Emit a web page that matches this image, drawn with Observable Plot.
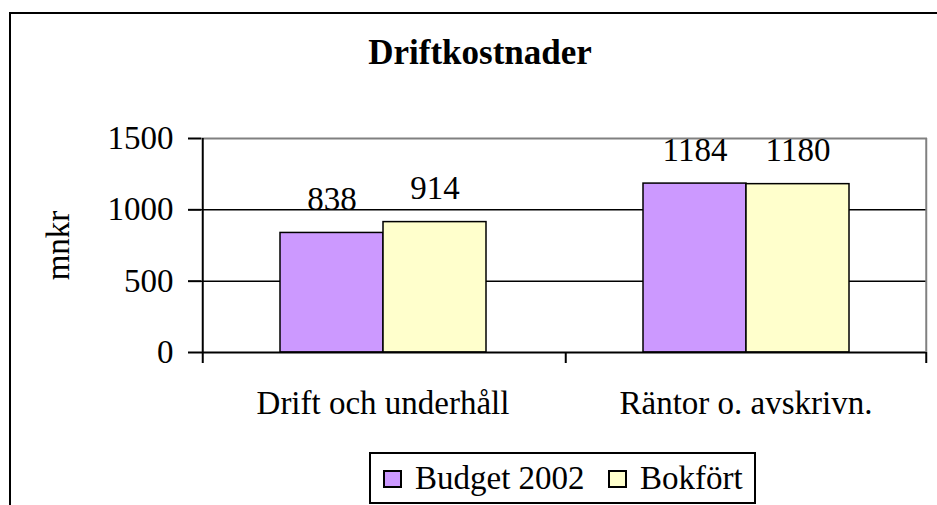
<!DOCTYPE html>
<html>
<head>
<meta charset="utf-8">
<script src="https://cdn.jsdelivr.net/npm/d3@7"></script>
<script src="https://cdn.jsdelivr.net/npm/@observablehq/plot@0.6"></script>
<style>
  html, body { margin: 0; padding: 0; background: #fff; }
  #wrap { position: relative; width: 937px; height: 505px; overflow: hidden; background: #fff;
          font-family: "Liberation Serif", "Times New Roman", serif; color: #000; }
  #wrap svg.chart { position: absolute; left: 0; top: 0; }
  .border { position: absolute; left: 9px; top: 12px; width: 1200px; height: 800px;
            border: 2px solid #000; box-sizing: border-box; }
  .title { position: absolute; left: 480px; top: 35px; transform: translateX(-50%);
           font-size: 35px; font-weight: bold; line-height: 1; white-space: nowrap; }
  .legend { position: absolute; left: 369px; top: 452px; width: 387px; height: 52px;
            border: 2px solid #000; box-sizing: border-box; background: #fff; }
  .sw { position: absolute; width: 19px; height: 18px; border: 2px solid #000; box-sizing: border-box; }
  .lt { position: absolute; font-size: 33px; line-height: 1; white-space: nowrap; }
</style>
</head>
<body>
<div id="wrap">
  <div class="border"></div>
</div>
<script>
// ---- data ----
const chartTitle = "Driftkostnader";
const yLabel = "mnkr";
const categories = ["Drift och underhåll", "Räntor o. avskrivn."];
const seriesNames = ["Budget 2002", "Bokfört"];
const budget2002 = [838, 1184];
const bokfort = [914, 1180];
const seriesColors = ["#CC99FF", "#FFFFCC"];
const yTicks = [0, 500, 1000, 1500];

const seriesValues = [budget2002, bokfort];
const table = [];
categories.forEach((c, i) => seriesNames.forEach((s, j) => table.push({category: c, series: s, value: seriesValues[j][i]})));

const yMax = yTicks[yTicks.length - 1];
const outerPad = 0.75;

const separators = Plot.ruleY(categories, {
  fx: d => d,
  y: () => 0,
  render(index, scales, values, dims) {
    const x = scales.x, y = scales.y;
    const bw = typeof x.bandwidth === "function" ? x.bandwidth() : x.bandwidth;
    const left = x(seriesNames[0]) - bw * outerPad;
    const right = x(seriesNames[seriesNames.length - 1]) + bw + bw * outerPad;
    const y0 = y(0), yTop = y(yMax);
    const g = d3.create("svg:g");
    for (const i of index) {
      g.append("line").attr("x1", left).attr("x2", left)
        .attr("y1", i === 0 ? yTop : y0).attr("y2", y0 + 11)
        .attr("stroke", "#000").attr("stroke-width", 2);
      if (i === categories.length - 1) {
        g.append("line").attr("x1", right).attr("x2", right)
          .attr("y1", yTop).attr("y2", y0)
          .attr("stroke", "#808080").attr("stroke-width", 2);
        g.append("line").attr("x1", right).attr("x2", right)
          .attr("y1", y0).attr("y2", y0 + 11)
          .attr("stroke", "#000").attr("stroke-width", 2);
      }
    }
    return g.node();
  }
});

const chart = Plot.plot({
  width: 937,
  height: 505,
  marginLeft: 201,
  marginRight: 10,
  marginTop: 138,
  marginBottom: 153,
  className: "chart",
  style: {fontFamily: "'Liberation Serif', 'Times New Roman', serif", fontSize: "33px", color: "#000", background: "transparent", overflow: "visible"},
  fx: {domain: categories, padding: 0},
  x: {domain: seriesNames, paddingInner: 0, paddingOuter: outerPad, axis: null},
  y: {domain: [0, yMax]},
  color: {domain: seriesNames, range: seriesColors},
  marks: [
    Plot.ruleY(yTicks.slice(1, -1), {stroke: "#000", strokeWidth: 1.5}),
    Plot.ruleY([yMax], {stroke: "#808080", strokeWidth: 2}),
    Plot.barY(table, {fx: "category", x: "series", y: "value", fill: "series", stroke: "#000", strokeWidth: 1.5}),
    Plot.ruleY([0], {stroke: "#000", strokeWidth: 2}),
    separators,
    Plot.text(table, {fx: "category", x: "series", y: "value", text: d => String(d.value), lineAnchor: "bottom", dy: -23, fontSize: 33, fill: "#000"}),
    Plot.axisY({ticks: yTicks, tickFormat: d => String(d), tickSize: 13, tickPadding: 15, fontSize: 33, stroke: "#000", strokeWidth: 2,
                label: yLabel, labelAnchor: "center", labelOffset: 156, labelArrow: "none"}),
    Plot.axisFx({anchor: "bottom", tickSize: 0, tickPadding: 38, fontSize: 33, label: null})
  ]
});

const wrap = document.getElementById("wrap");
wrap.appendChild(chart);

const t = document.createElement("div");
t.className = "title";
t.textContent = chartTitle;
wrap.appendChild(t);

// legend
const lg = document.createElement("div");
lg.className = "legend";
wrap.appendChild(lg);
const swLeft = [383, 608], txtLeft = [415, 640];
seriesNames.forEach((s, i) => {
  const sw = document.createElement("div");
  sw.className = "sw";
  sw.style.left = swLeft[i] + "px";
  sw.style.top = "470px";
  sw.style.background = seriesColors[i];
  wrap.appendChild(sw);
  const tx = document.createElement("div");
  tx.className = "lt";
  tx.style.left = txtLeft[i] + "px";
  tx.style.top = "462px";
  tx.textContent = s;
  wrap.appendChild(tx);
});
</script>
</body>
</html>
